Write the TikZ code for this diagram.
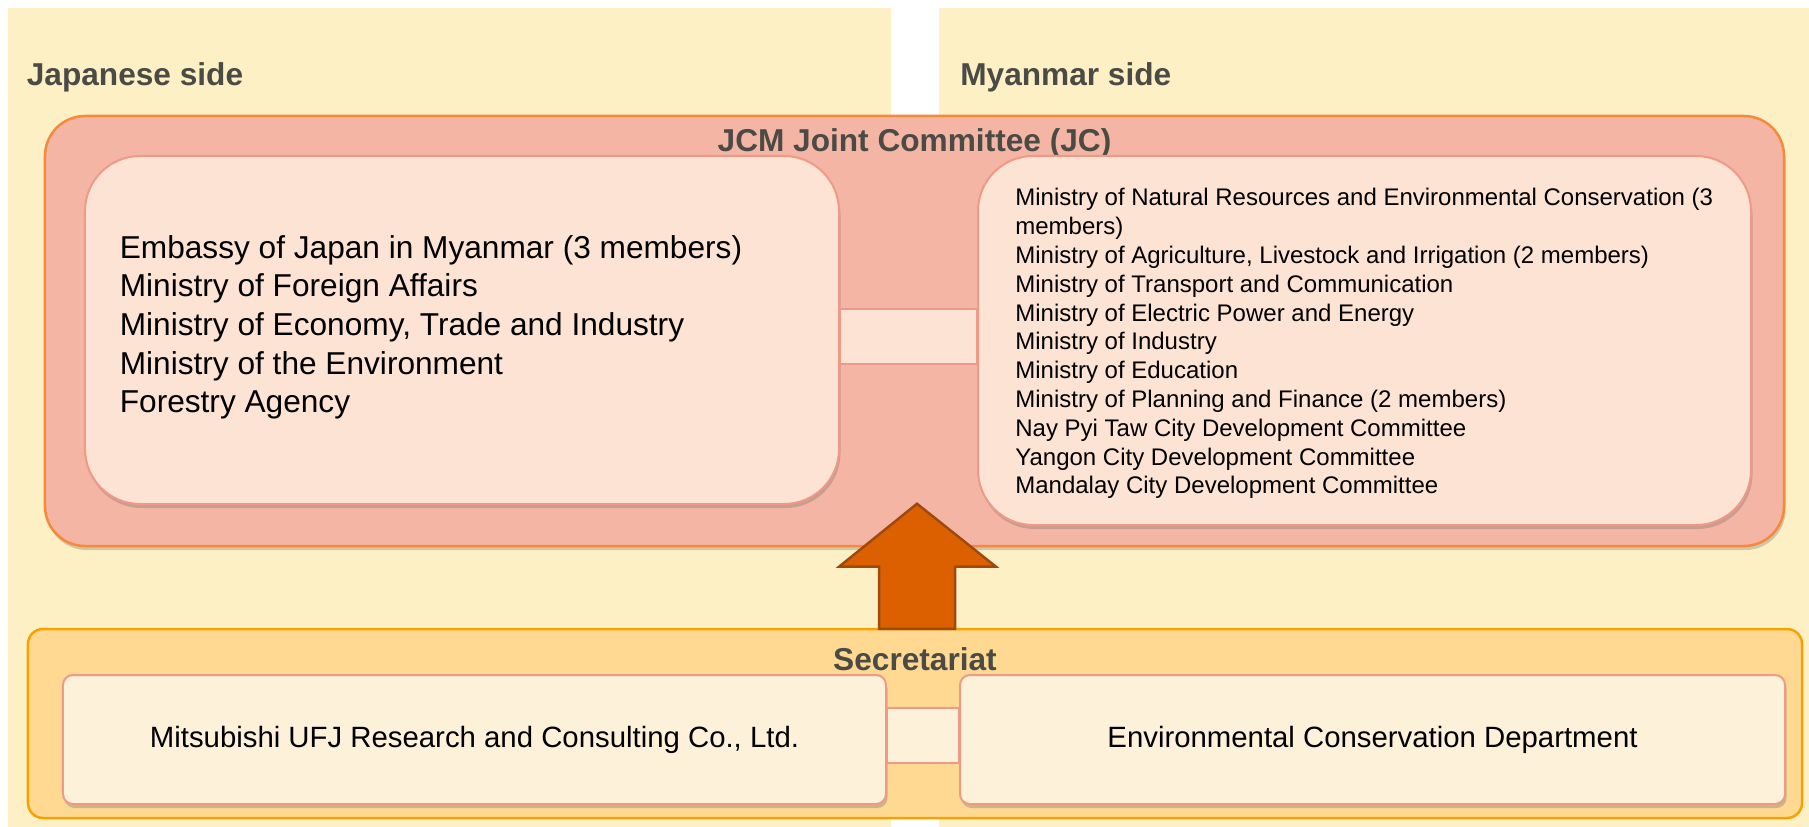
\documentclass[tikz,border=0pt]{standalone}
\usepackage{fontspec}
\setmainfont{Liberation Sans}
\usetikzlibrary{calc,shadows}

\definecolor{panel}{HTML}{FEF0C5}
\definecolor{jcfill}{HTML}{F5B5A5}
\definecolor{jcdraw}{HTML}{F7893B}
\definecolor{innerfill}{HTML}{FDE3D3}
\definecolor{innerdraw}{HTML}{EE9A86}
\definecolor{arrowfill}{HTML}{DD6000}
\definecolor{arrowdraw}{HTML}{9E4A0E}
\definecolor{secfill}{HTML}{FFD891}
\definecolor{secdraw}{HTML}{F6A200}
\definecolor{seclight}{HTML}{FEF1D9}
\definecolor{labelgray}{HTML}{4B4B45}

\begin{document}
\begin{tikzpicture}[x=0.2mm, y=-0.2mm,
		sidelabel/.style={font=\fontsize{18}{22}\selectfont\bfseries, text=labelgray, inner sep=0pt, anchor=base west},
		titlelabel/.style={font=\fontsize{18}{22}\selectfont\bfseries, text=labelgray, inner sep=0pt, anchor=base},
		softshadow/.style={drop shadow={shadow xshift=0.3mm, shadow yshift=-0.8mm, opacity=0.3, fill=black!60}},
		jcbox/.style={draw=jcdraw, line width=0.5mm, fill=jcfill, rounded corners=8mm, softshadow},
		innerbox/.style={draw=innerdraw, line width=0.4mm, fill=innerfill, rounded corners=11mm, softshadow},
		secbox/.style={draw=secdraw, line width=0.5mm, fill=secfill, rounded corners=3mm},
		orgbox/.style={draw=innerdraw, line width=0.4mm, fill=seclight, rounded corners=2mm, softshadow, font=\fontsize{16.7}{20}\selectfont},
		listtext/.style={anchor=north west, align=left, inner sep=0pt},
		bigarrow/.style={draw=arrowdraw, line width=0.5mm, fill=arrowfill}
	]
	\useasboundingbox (0,0) rectangle (1809,827);

	% two sides
	\fill[panel] (8,8) rectangle (891,827);
	\fill[panel] (939,8) rectangle (1809,827);
	\node[sidelabel] (jside) at (26.5,86) {Japanese side};
	\node[sidelabel] (mside) at (960,86) {Myanmar side};

	% joint committee
	\node[jcbox, minimum width=347.8mm, minimum height=86mm] (jc) at (914.5,331) {};
	\node[titlelabel] (jctitle) at (914.5,152) {JCM Joint Committee (JC)};

	\node[innerbox, minimum width=150.8mm, minimum height=69.6mm] (jpn) at (462,330) {};
	\node[innerbox, minimum width=154.6mm, minimum height=73.8mm] (mmr) at (1364.5,340.5) {};
	\node[listtext, font=\fontsize{18}{21.96}\selectfont] (jpnlist) at ($(jpn.north west)+(35.5,80)$) {
		Embassy of Japan in Myanmar (3 members)\\
		Ministry of Foreign Affairs\\
		Ministry of Economy, Trade and Industry\\
		Ministry of the Environment\\
		Forestry Agency
	};
	\node[listtext, font=\fontsize{13.66}{16.4}\selectfont] (mmrlist) at ($(mmr.north west)+(38,33)$) {
		Ministry of Natural Resources and Environmental Conservation (3\\
		members)\\
		Ministry of Agriculture, Livestock and Irrigation (2 members)\\
		Ministry of Transport and Communication\\
		Ministry of Electric Power and Energy\\
		Ministry of Industry\\
		Ministry of Education\\
		Ministry of Planning and Finance (2 members)\\
		Nay Pyi Taw City Development Committee\\
		Yangon City Development Committee\\
		Mandalay City Development Committee
	};
	\draw[draw=innerdraw, line width=0.4mm, fill=innerfill]
		($(jpn.east)+(0,-21)$) rectangle ($(mmr.west)+(0,23.5)$);

	% secretariat
	\node[secbox, minimum width=354.8mm, minimum height=37.8mm] (sec) at (915,723.5) {};
	\node[titlelabel] (sectitle) at (915,670) {Secretariat};
	\node[orgbox, minimum width=164.6mm, minimum height=25.8mm] (murc) at (474.5,739.5)
		{Mitsubishi UFJ Research and Consulting Co., Ltd.};
	\node[orgbox, minimum width=165mm, minimum height=25.8mm] (ecd) at (1372.5,739.5)
		{Environmental Conservation Department};
	\draw[draw=innerdraw, line width=0.4mm, fill=seclight]
		($(murc.east)+(0,-31.5)$) rectangle ($(ecd.west)+(0,23.5)$);

	% secretariat supports the committee
	\coordinate (tip) at ($(sec.north)+(2,-124)$);
	\draw[bigarrow] ($(sec.north)+(-36,1)$) -- ++(0,-62) -- ++(-40,0) -- (tip)
		-- ($(sec.north)+(81,-61)$) -- ++(-41,0) -- ++(0,62) -- cycle;
\end{tikzpicture}
\end{document}
